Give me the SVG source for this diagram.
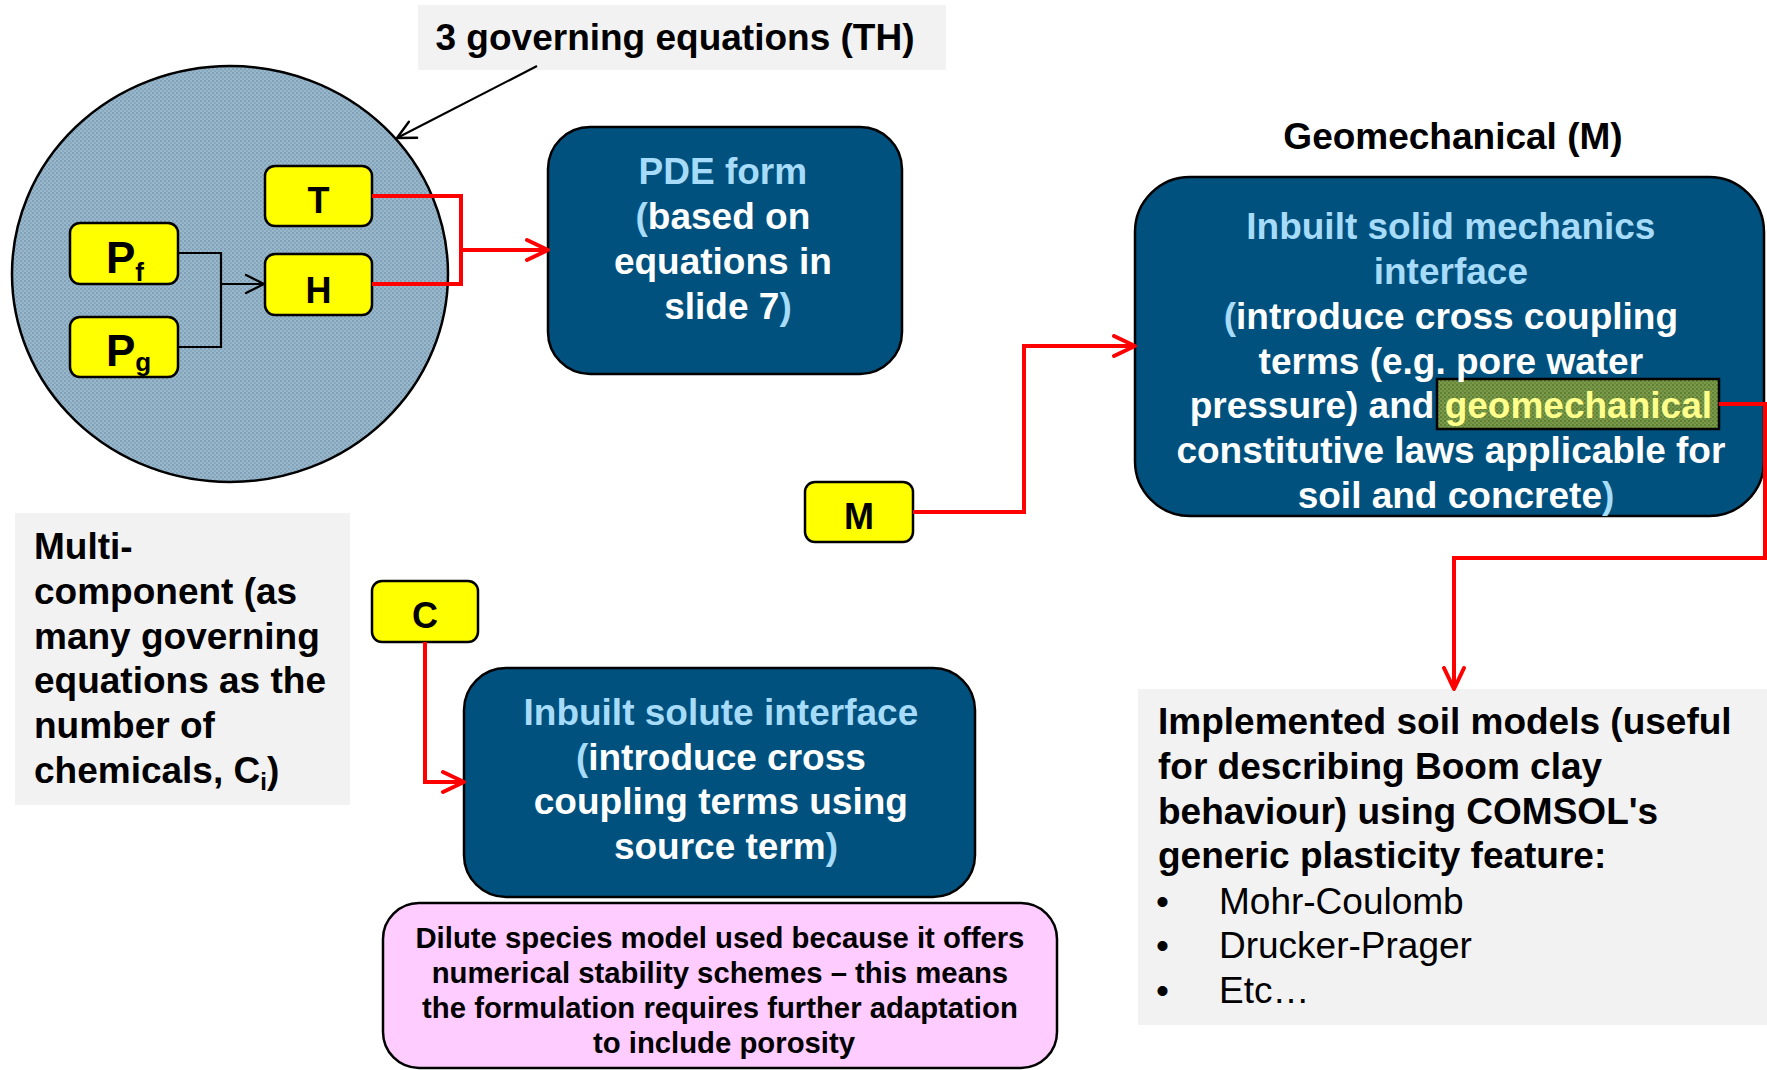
<svg xmlns="http://www.w3.org/2000/svg" width="1767" height="1070" viewBox="0 0 1767 1070">
  <defs>
    <style>
      text { font-family: "Liberation Sans", Arial, sans-serif; font-weight: bold; }
      .lbl { font-size: 36px; fill: #000; text-anchor: middle; }
      .ybox { fill: #ffff00; stroke: #000; stroke-width: 2.5; }
      .dbox { fill: #00517e; stroke: #000; stroke-width: 2.5; }
      .gray { fill: #f2f2f2; }
      .big { font-size: 37px; }
      .w { fill: #ffffff; }
      .lb { fill: #a6dcfa; }
      .ctr { text-anchor: middle; }
      .red { fill: none; stroke: #ff0000; stroke-width: 4; }
      .blk { fill: none; stroke: #000; stroke-width: 2.2; }
      .reg { font-weight: normal; }
    </style>
    <!-- dotted fill for the circle -->
    <pattern id="dotBlue" width="4" height="4" patternUnits="userSpaceOnUse">
      <rect width="4" height="4" fill="#99b8cb"/>
      <rect width="2" height="2" fill="#80a1b8"/>
      <rect x="2" y="2" width="2" height="2" fill="#88a8bd"/>
    </pattern>
    <!-- dotted fill for the highlighted word -->
    <pattern id="dotGreen" width="4" height="4" patternUnits="userSpaceOnUse">
      <rect width="4" height="4" fill="#7b9a4a"/>
      <rect width="2" height="2" fill="#5f7f35"/>
      <rect x="2" y="2" width="2" height="2" fill="#6a8a3e"/>
    </pattern>
    <marker id="arrRed" markerUnits="userSpaceOnUse" viewBox="0 0 26 26" markerWidth="26" markerHeight="26" refX="23" refY="13" orient="auto">
      <path d="M2,3 L23,13 L2,23" fill="none" stroke="#ff0000" stroke-width="4" stroke-linecap="round" stroke-linejoin="round"/>
    </marker>
    <marker id="arrBlk" markerUnits="userSpaceOnUse" viewBox="0 0 24 24" markerWidth="24" markerHeight="24" refX="21" refY="12" orient="auto">
      <path d="M3,3 L21,12 L3,21" fill="none" stroke="#000" stroke-width="2.4" stroke-linecap="round" stroke-linejoin="round"/>
    </marker>
  </defs>

  <rect width="1767" height="1070" fill="#ffffff"/>

  <!-- heading of the TH group -->
  <g id="title-th">
    <rect class="gray" x="418" y="5" width="528" height="65"/>
    <text class="big ctr" x="675" y="50" fill="#000">3 governing equations (TH)</text>
  </g>

  <!-- TH circle -->
  <g id="th-circle">
    <ellipse cx="230" cy="274" rx="218" ry="208" fill="url(#dotBlue)" stroke="#000" stroke-width="2.5"/>
  </g>

  <g id="node-T">
    <rect class="ybox" x="265" y="166" width="107" height="60" rx="10"/>
    <text class="lbl" x="318.5" y="213">T</text>
  </g>
  <g id="node-H">
    <rect class="ybox" x="265" y="254" width="107" height="61" rx="10"/>
    <text class="lbl" x="318.5" y="303">H</text>
  </g>
  <g id="node-Pf">
    <rect class="ybox" x="70" y="223" width="108" height="61" rx="10"/>
    <text x="106" y="273" font-size="44" fill="#000">P<tspan font-size="26" dy="8">f</tspan></text>
  </g>
  <g id="node-Pg">
    <rect class="ybox" x="70" y="317" width="108" height="60" rx="10"/>
    <text x="106" y="366" font-size="44" fill="#000">P<tspan font-size="26" dy="5">g</tspan></text>
  </g>

  <g id="node-pde">
    <rect class="dbox" x="548" y="127" width="354" height="247" rx="42"/>
    <text class="big ctr" x="728">
      <tspan class="lb" x="728" y="184">PDE form</tspan>
      <tspan x="728" y="229"><tspan class="lb">(</tspan><tspan class="w">based on</tspan></tspan>
      <tspan class="w" x="728" y="274">equations in</tspan>
      <tspan x="728" y="319"><tspan class="w">slide 7</tspan><tspan class="lb">)</tspan></tspan>
    </text>
  </g>

  <g id="label-geomech">
    <text class="big ctr" x="1453" y="149" fill="#000">Geomechanical (M)</text>
  </g>

  <g id="node-solid">
    <rect class="dbox" x="1135" y="177" width="629" height="339" rx="55"/>
    <rect x="1437" y="379" width="282" height="50" fill="url(#dotGreen)" stroke="#000" stroke-width="2.5"/>
    <text class="big ctr">
      <tspan class="lb" x="1456" y="239">Inbuilt solid mechanics</tspan>
      <tspan class="lb" x="1456" y="284">interface</tspan>
      <tspan x="1456" y="329"><tspan class="lb">(</tspan><tspan class="w">introduce cross coupling</tspan></tspan>
      <tspan class="w" x="1456" y="374">terms (e.g. pore water</tspan>
      <tspan x="1456" y="418"><tspan class="w">pressure) and </tspan><tspan fill="#ffff8c">geomechanical</tspan></tspan>
      <tspan class="w" x="1456" y="463">constitutive laws applicable for</tspan>
      <tspan x="1456" y="508"><tspan class="w">soil and concrete</tspan><tspan class="lb">)</tspan></tspan>
    </text>
  </g>

  <g id="node-M">
    <rect class="ybox" x="805" y="482" width="108" height="60" rx="10"/>
    <text class="lbl" x="859" y="529">M</text>
  </g>

  <g id="note-multi">
    <rect class="gray" x="15" y="513" width="335" height="292"/>
    <text class="big" fill="#000">
      <tspan x="34" y="559">Multi-</tspan>
      <tspan x="34" y="604">component (as</tspan>
      <tspan x="34" y="649">many governing</tspan>
      <tspan x="34" y="693">equations as the</tspan>
      <tspan x="34" y="738">number of</tspan>
      <tspan x="34" y="783">chemicals, C<tspan font-size="24" dy="7">i</tspan><tspan dy="-7">)</tspan></tspan>
    </text>
  </g>

  <g id="node-C">
    <rect class="ybox" x="372" y="581" width="106" height="61" rx="10"/>
    <text class="lbl" x="425" y="628">C</text>
  </g>

  <g id="node-solute">
    <rect class="dbox" x="464" y="668" width="511" height="229" rx="42"/>
    <text class="big ctr">
      <tspan class="lb" x="726" y="725">Inbuilt solute interface</tspan>
      <tspan x="726" y="770"><tspan class="lb">(</tspan><tspan class="w">introduce cross</tspan></tspan>
      <tspan class="w" x="726" y="814">coupling terms using</tspan>
      <tspan x="726" y="859"><tspan class="w">source term</tspan><tspan class="lb">)</tspan></tspan>
    </text>
  </g>

  <g id="note-dilute">
    <rect x="383" y="903" width="674" height="165" rx="36" fill="#ffccff" stroke="#000" stroke-width="2.5"/>
    <text class="ctr" font-size="29.3" fill="#000">
      <tspan x="724" y="948">Dilute species model used because it offers</tspan>
      <tspan x="724" y="983">numerical stability schemes – this means</tspan>
      <tspan x="724" y="1018">the formulation requires further adaptation</tspan>
      <tspan x="724" y="1053">to include porosity</tspan>
    </text>
  </g>

  <g id="note-soil">
    <rect class="gray" x="1138" y="689" width="629" height="336"/>
    <text class="big" fill="#000">
      <tspan x="1158" y="734">Implemented soil models (useful</tspan>
      <tspan x="1158" y="779">for describing Boom clay</tspan>
      <tspan x="1158" y="824">behaviour) using COMSOL's</tspan>
      <tspan x="1158" y="868">generic plasticity feature:</tspan>
    </text>
    <text class="big reg" fill="#000">
      <tspan x="1156" y="914">•</tspan><tspan x="1219" y="914">Mohr-Coulomb</tspan>
      <tspan x="1156" y="958">•</tspan><tspan x="1219" y="958">Drucker-Prager</tspan>
      <tspan x="1156" y="1003">•</tspan><tspan x="1219" y="1003">Etc…</tspan>
    </text>
  </g>

  <g id="connectors">
    <path class="blk" d="M537,66 L397,138" marker-end="url(#arrBlk)"/>
    <path class="blk" d="M178,253 H221 V347 H178"/>
    <path class="blk" d="M221,284 H264" marker-end="url(#arrBlk)"/>
    <path class="red" d="M372,196 H461 V284 H372"/>
    <path class="red" d="M461,250 H548" marker-end="url(#arrRed)"/>
    <path class="red" d="M913,512 H1024 V346 H1135" marker-end="url(#arrRed)"/>
    <path class="red" d="M1719,404 H1765 V558 H1454 V689" marker-end="url(#arrRed)"/>
    <path class="red" d="M425,642 V782 H464" marker-end="url(#arrRed)"/>
  </g>
</svg>
